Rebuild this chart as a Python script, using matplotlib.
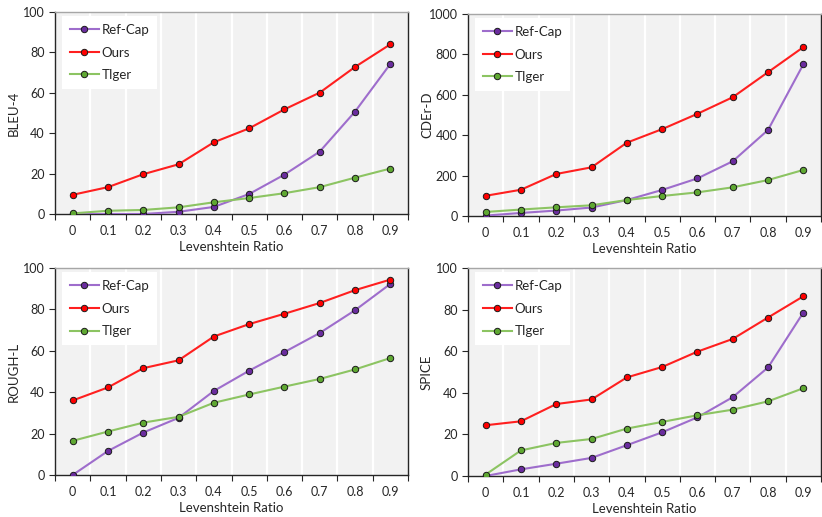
import numpy as np
import matplotlib
matplotlib.use('Agg')
import matplotlib.pyplot as plt

plt.rcParams['font.family'] = ['Lato', 'DejaVu Sans']

ratios = ['0', '0.1', '0.2', '0.3', '0.4', '0.5', '0.6', '0.7', '0.8', '0.9']
series_names = ['Ref-Cap', 'Ours', 'TIger']

bleu_refcap = [0, 0, 0, 1.1, 3.5, 9.9, 19.5, 30.9, 50.7, 74.3]
bleu_ours = [9.5, 13.3, 19.7, 24.6, 35.5, 42.4, 51.8, 60.1, 72.8, 84.0]
bleu_tiger = [0.3, 1.6, 2.0, 3.3, 5.8, 7.9, 10.3, 13.3, 18.0, 22.5]

cider_refcap = [2, 15, 27, 42, 79, 129, 186, 271, 426, 751]
cider_ours = [100, 130, 208, 241, 363, 430, 506, 588, 712, 836]
cider_tiger = [20, 32, 43, 53, 79, 99, 117, 142, 178, 228]

rouge_refcap = [0, 11.6, 20.5, 27.6, 40.6, 50.4, 59.4, 68.6, 79.6, 92.3]
rouge_ours = [36.0, 42.3, 51.6, 55.4, 66.9, 72.9, 77.9, 83.1, 89.3, 94.4]
rouge_tiger = [16.5, 21.0, 25.3, 28.1, 34.9, 38.9, 42.7, 46.4, 51.0, 56.5]

spice_refcap = [0, 3.2, 5.9, 8.7, 14.8, 21.0, 28.2, 37.9, 52.2, 78.6]
spice_ours = [24.4, 26.3, 34.6, 36.8, 47.4, 52.4, 59.8, 65.9, 76.2, 86.4]
spice_tiger = [0.7, 12.3, 15.9, 17.8, 22.8, 26.0, 29.2, 31.9, 35.9, 42.2]

panels = [
    ('BLEU-4', 100, [bleu_refcap, bleu_ours, bleu_tiger]),
    ('CDEr-D', 1000, [cider_refcap, cider_ours, cider_tiger]),
    ('ROUGH-L', 100, [rouge_refcap, rouge_ours, rouge_tiger]),
    ('SPICE', 100, [spice_refcap, spice_ours, spice_tiger]),
]

line_colors = ['#9e6dcc', '#ff1f1f', '#8cc462']
face_colors = ['#6a2c9e', '#ff0000', '#5fa832']

fig = plt.figure(figsize=(8.22, 5.17), dpi=100)
W, H = 822, 517
# plot-area boxes in pixels: left, top, right, bottom
boxes = [(55, 12, 408, 214), (468, 14, 821, 216),
         (55, 268, 408, 475), (468, 268, 821, 476)]

x = np.arange(len(ratios))
for (label, ymax, data), (l, t, r, b) in zip(panels, boxes):
    ax = fig.add_axes([l / W, 1 - b / H, (r - l) / W, (b - t) / H])
    ax.set_facecolor('#f2f2f2')
    for xb in np.arange(0.5, len(ratios) - 1, 1.0):
        ax.axvline(xb, color='white', lw=1.6, zorder=0)
    for vals, name, lc, fc in zip(data, series_names, line_colors, face_colors):
        ax.plot(x, vals, color=lc, lw=1.5, marker='o', ms=4.6,
                mfc=fc, mec='#1a1a1a', mew=0.7, label=name, zorder=3)
    ax.set_xlim(-0.5, len(ratios) - 0.5)
    ax.set_ylim(0, ymax)
    ax.set_yticks(np.linspace(0, ymax, 6))
    ax.set_xticks(x)
    ax.set_xticklabels(ratios)
    ax.set_xticks(np.arange(-0.5, len(ratios), 1.0), minor=True)
    ax.tick_params(axis='x', which='major', length=0, pad=8, labelsize=9,
                   colors='#262626')
    ax.tick_params(axis='x', which='minor', length=4, width=0.8,
                   color='#262626')
    ax.tick_params(axis='y', length=4, width=0.8, labelsize=9,
                   colors='#262626')
    for side in ('left', 'bottom', 'right'):
        ax.spines[side].set_color('#262626')
        ax.spines[side].set_linewidth(1.0)
    ax.spines['top'].set_color('#a6a6a6')
    ax.spines['top'].set_linewidth(1.0)
    ax.set_ylabel(label, fontsize=9.5, color='#262626', va='center')
    ax.yaxis.set_label_coords(-41 / (r - l), 0.5)
    ax.set_xlabel('Levenshtein Ratio', fontsize=9.5, color='#262626',
                  labelpad=3)
    leg = ax.legend(loc='upper left', bbox_to_anchor=(0.02, 0.98),
                    fontsize=9.5, frameon=True, fancybox=False, framealpha=1,
                    edgecolor='white', facecolor='white', handlelength=2.2,
                    handletextpad=0.2, labelspacing=0.8, borderpad=0.6,
                    borderaxespad=0)
    leg.get_frame().set_linewidth(0)
    for txt in leg.get_texts():
        txt.set_color('#262626')

fig.savefig('out.png', dpi=100)
